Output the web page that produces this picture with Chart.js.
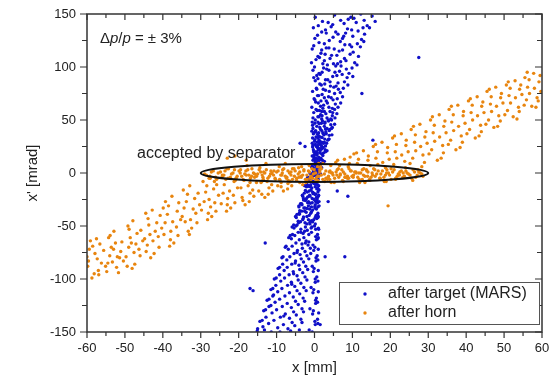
<!DOCTYPE html>
<html>
<head>
<meta charset="utf-8">
<script src="https://cdn.jsdelivr.net/npm/chart.js@4.4.1/dist/chart.umd.min.js"></script>
<style>
  body { margin: 0; background: #fff; }
</style>
</head>
<body>
<canvas id="phaseChart" width="554" height="385"></canvas>
<script>
// Beam phase space, x [mm] vs x' [mrad]
const xTicks = [-60, -50, -40, -30, -20, -10, 0, 10, 20, 30, 40, 50, 60];
const yTicks = [-150, -100, -50, 0, 50, 100, 150];
const seriesNames = ["after target (MARS)", "after horn"];

// after target: [x, x']
const targetPts = [
  [0.2,147],[2.1,143],[5.3,149],[7.8,141],[10.4,146],[13.1,144],[15.2,148],[3.6,142],[8.9,145],
  [-0.3,137],[1.9,133],[4.4,138],[6.2,131],[8.7,136],[11.5,134],[13.9,139],[3.1,132],[9.8,135],
  [0.1,127],[2.6,122],[4.9,128],[6.8,124],[9.3,121],[12.4,126],[1.2,123],[7.7,129],[3.9,125],
  [-0.6,117],[1.7,113],[3.8,118],[5.9,111],[7.4,116],[10.2,114],[12.1,119],[2.8,112],[6.5,115],
  [0.4,107],[2.2,103],[4.1,108],[5.6,101],[8.3,106],[10.6,104],[1.3,109],[3.4,102],[6.9,105],
  [-0.4,97],[1.5,93],[3.2,98],[4.8,91],[6.6,96],[9.1,94],[2.4,99],[0.6,92],[5.4,95],
  [0.2,87],[1.8,83],[3.5,88],[5.1,81],[7.9,86],[2.7,84],[0.9,89],[4.2,82],[6.2,85],
  [-0.5,77],[1.1,73],[2.9,78],[4.4,71],[6.8,76],[2.0,74],[0.6,79],[3.7,72],[5.3,75],
  [0.3,67],[1.6,63],[3.1,68],[4.7,61],[6.9,66],[2.4,64],[0.1,69],[3.8,62],[5.5,65],[1.0,66],
  [-0.2,57],[1.2,53],[2.6,58],[4.3,51],[5.9,56],[2.0,54],[0.7,59],[3.3,52],[1.6,55],[4.8,57],
  [0.1,47],[1.4,43],[2.8,48],[4.0,41],[5.3,46],[0.6,44],[2.1,49],[3.3,42],[-0.5,45],[1.8,47],
  [-0.3,37],[0.9,33],[2.2,38],[3.5,31],[4.6,36],[1.5,34],[0.3,39],[2.7,32],[1.1,35],[3.1,37],
  [0.2,27],[1.3,23],[2.4,28],[3.3,21],[-0.4,26],[0.8,24],[1.9,29],[2.8,22],[0.5,25],[1.6,27],
  [-0.1,17],[0.9,13],[1.9,18],[2.6,11],[-0.6,16],[0.4,14],[1.4,19],[2.1,12],[1.1,15],[0.6,17],
  [0.3,7],[1.2,3],[-0.5,8],[0.8,1],[1.6,6],[-0.2,4],[0.9,9],[0.1,2],[1.9,5],[-0.8,6],
  [0.4,-3],[-1.1,-7],[1.2,-2],[-0.3,-8],[-1.8,-4],[0.9,-6],[-0.6,-1],[0.1,-9],[-1.4,-5],[1.0,-3],
  [0.2,-13],[-1.4,-17],[-2.6,-12],[0.9,-18],[-0.7,-14],[1.2,-16],[-2.0,-11],[-0.2,-19],[0.6,-15],[-1.1,-13],
  [0.5,-23],[-1.6,-27],[-3.1,-22],[0.8,-28],[-0.6,-24],[-2.4,-26],[1.1,-21],[-3.7,-29],[-0.1,-25],[0.3,-27],
  [0.1,-33],[-2.2,-37],[-4.1,-32],[0.9,-38],[-1.3,-34],[-3.4,-36],[1.2,-31],[-4.6,-39],[-0.5,-35],[-2.8,-33],
  [0.6,-43],[-2.5,-47],[-4.8,-42],[0.2,-48],[-1.6,-44],[-3.7,-46],[1.0,-41],[-5.5,-49],[-0.8,-45],[-4.2,-47],
  [0.3,-53],[-3.0,-57],[-5.4,-52],[0.8,-58],[-1.9,-54],[-4.3,-56],[-0.7,-51],[-6.4,-59],[-2.6,-55],[1.1,-53],
  [0.5,-63],[-3.3,-67],[-6.1,-62],[-0.4,-68],[-2.2,-64],[-4.9,-66],[1.0,-61],[-7.5,-69],[-1.5,-65],
  [-0.2,-73],[-3.8,-77],[-6.9,-72],[0.7,-78],[-2.5,-74],[-5.4,-76],[-1.1,-71],[-8.3,-79],[-4.6,-75],
  [0.4,-83],[-4.1,-87],[-7.3,-82],[-0.6,-88],[-2.9,-84],[-6.0,-86],[-1.5,-81],[-9.2,-89],[-5.1,-85],
  [-0.3,-93],[-4.6,-97],[-8.0,-92],[0.6,-98],[-3.1,-94],[-6.7,-96],[-1.8,-91],[-10.1,-99],[-5.5,-95],
  [0.2,-103],[-5.2,-107],[-8.9,-102],[-0.9,-108],[-3.6,-104],[-7.1,-106],[-2.0,-101],[-11.0,-109],[-6.0,-105],
  [-0.4,-113],[-5.6,-117],[-9.7,-112],[0.5,-118],[-3.9,-114],[-7.8,-116],[-2.2,-111],[-12.0,-119],[-10.8,-115],
  [0.3,-123],[-6.1,-127],[-10.4,-122],[-1.2,-128],[-4.3,-124],[-8.5,-126],[-2.6,-121],[-12.9,-129],[-11.5,-125],
  [-0.5,-133],[-6.6,-137],[-11.2,-132],[0.8,-138],[-4.8,-134],[-9.0,-136],[-2.9,-131],[-13.8,-139],[-8.1,-135],
  [0.2,-143],[-7.0,-147],[-12.1,-142],[-1.4,-148],[-5.2,-144],[-9.7,-146],[-3.3,-141],[-15.1,-149],[-13.6,-145],
  [-0.3,3],[0.6,5],[1.4,9],[0.2,12],[1.7,14],[0.7,18],[-0.2,20],[1.0,22],[2.3,24],[0.9,26],[-0.6,28],[1.4,30],
  [3.8,32],[0.4,34],[2.5,36],[-0.1,38],[1.9,40],[4.5,42],[2.6,44],[0.9,48],[3.6,50],[-0.4,52],[4.7,54],[1.9,58],
  [-0.9,-2],[0.7,-4],[-1.5,-6],[-0.4,-9],[0.8,-11],[-2.1,-13],[-0.9,-16],[-1.9,-18],[0.3,-20],[-1.2,-22],
  [-2.9,-24],[0.6,-26],[-1.8,-28],[-3.3,-30],[-0.8,-32],[0.5,-34],[-2.6,-36],[-4.0,-38],[-1.4,-40],[0.2,-42],
  [-3.1,-44],[-2.0,-48],[-4.9,-50],[-0.9,-52],[-3.6,-56],[-5.8,-58],
  [4.8,140],[9.6,147],[12.2,150],[14.5,137],[6.9,144],[1.0,139],[11.0,142],[16.0,143],
  [0.8,130],[5.6,133],[10.1,129],[13.2,131],[7.4,127],[2.9,135],[12.8,137],[8.2,132],
  [-0.2,120],[3.1,118],[8.0,121],[11.3,122],[5.2,117],[13.0,124],[9.8,119],[1.9,116],
  [0.9,110],[4.5,111],[7.9,108],[11.6,110],[2.6,106],[9.4,112],[6.1,103],[-0.8,104],
  [0.0,100],[3.8,97],[7.0,101],[9.9,99],[5.0,103],[2.0,95],[8.4,98],[11.2,102],
  [-0.2,90],[2.9,88],[5.9,92],[8.6,90],[4.1,86],[1.2,94],[7.3,93],[10.1,91],
  [0.5,80],[2.3,79],[5.7,82],[7.6,80],[3.9,77],[1.4,84],[8.8,83],[6.3,79],
  [-0.1,70],[2.6,71],[4.9,69],[7.4,72],[3.4,66],[1.7,68],[6.0,70],[0.8,73],
  [0.4,60],[2.2,61],[4.1,58],[6.2,62],[3.0,56],[1.3,59],[5.3,60],[-0.7,62],
  [0.2,50],[1.9,51],[3.7,49],[5.4,52],[2.7,47],[0.9,53],[4.5,50],[-0.6,48],
  [0.3,40],[1.6,41],[3.0,39],[4.7,43],[2.3,37],[-0.4,42],[3.9,40],[1.1,38],
  [0.0,30],[1.2,31],[2.6,29],[3.8,32],[1.8,26],[-0.5,33],[3.2,28],[0.7,29],
  [0.4,20],[1.5,21],[2.4,19],[-0.3,22],[1.0,23],[2.9,20],[0.1,18],[1.9,24],
  [0.2,10],[1.0,11],[1.8,9],[-0.4,12],[0.6,8],[2.3,10],[-0.1,14],[1.3,13],
  [0.0,0],[0.8,1],[-0.6,-1],[1.3,2],[-1.2,0],[0.4,-2],[1.6,-1],[-0.3,1],
  [0.3,-10],[-1.0,-11],[-2.0,-9],[1.1,-12],[-0.5,-8],[0.8,-14],[-1.6,-12],[-0.1,-10],
  [0.1,-20],[-1.3,-21],[-2.7,-19],[1.0,-22],[-0.5,-18],[-2.1,-24],[0.7,-23],[-3.2,-21],
  [0.2,-30],[-1.6,-31],[-3.4,-29],[0.9,-32],[-0.6,-28],[-2.5,-33],[-4.1,-31],[1.2,-27],
  [0.4,-40],[-2.0,-41],[-4.0,-39],[0.9,-42],[-1.0,-38],[-3.0,-43],[-5.0,-41],[-0.2,-44],
  [0.0,-50],[-2.4,-51],[-4.6,-49],[1.0,-52],[-1.2,-48],[-3.6,-53],[-5.9,-51],[-0.5,-46],
  [0.3,-60],[-2.8,-61],[-5.2,-59],[0.9,-62],[-1.5,-58],[-4.0,-63],[-6.8,-61],[-0.8,-56],
  [0.1,-70],[-3.2,-71],[-5.9,-69],[1.0,-72],[-1.7,-68],[-4.5,-73],[-7.7,-70],[-2.4,-66],
  [0.4,-80],[-3.5,-81],[-6.5,-79],[0.9,-82],[-2.0,-78],[-5.0,-83],[-8.6,-80],[-1.0,-76],
  [-0.1,-90],[-3.9,-91],[-7.2,-89],[1.0,-92],[-2.3,-88],[-5.6,-93],[-9.6,-90],[-8.4,-86],
  [0.2,-100],[-4.3,-101],[-7.9,-99],[0.9,-102],[-2.5,-98],[-6.1,-103],[-10.6,-100],[-9.2,-96],
  [-0.2,-110],[-4.6,-111],[-8.6,-109],[1.0,-112],[-2.8,-108],[-6.6,-113],[-11.5,-110],[-10.2,-106],
  [0.3,-120],[-5.0,-121],[-9.2,-119],[0.8,-122],[-3.0,-118],[-7.2,-123],[-12.5,-120],[-11.0,-116],
  [-0.3,-130],[-5.5,-131],[-10.0,-129],[1.1,-132],[-3.3,-128],[-7.7,-133],[-13.4,-130],[-12.0,-126],
  [0.1,-140],[-5.9,-141],[-10.7,-139],[0.9,-142],[-3.6,-138],[-8.2,-143],[-14.4,-140],[-12.8,-136],
  [-0.6,-150],[-6.3,-149],[-11.4,-150],[-4.0,-148],[-9.1,-150],[-15.0,-147],[-2.2,-151],[-13.2,-148],
  [0.5,2.5],[-0.4,5.5],[1.1,7.5],[0.3,10.5],[1.5,12.5],[-0.2,15.5],[2.2,16.5],[0.6,19.5],[1.8,22.5],[-0.5,24.5],
  [2.9,25.5],[1.2,28.5],[0.1,31.5],[2.0,33.5],[3.9,35.5],[0.8,36.5],[-0.7,39.5],[2.9,41.5],[4.3,45.5],[1.2,46.5],
  [-0.3,-2.5],[0.9,-5.5],[-1.3,-7.5],[0.2,-10.5],[-1.7,-12.5],[1.0,-15.5],[-2.4,-16.5],[-0.4,-19.5],[-1.8,-22.5],[0.7,-24.5],
  [-2.9,-25.5],[-1.1,-28.5],[0.1,-31.5],[-2.0,-33.5],[-3.9,-35.5],[-0.8,-36.5],[0.8,-39.5],[-2.9,-41.5],[-4.3,-45.5],[-1.2,-46.5],
  [27.5,109],[12.5,75],[15.4,31],[6,-17],[8.8,-22],[3.6,-27],[2.8,-79],[8,-79],[1.5,-143],
  [-17,-109],[-16.2,-111],[-13,-66],[-3.8,28],[-2.5,25]
];

// after horn: [x, x']
const hornPts = [
  [-59.4,-72],[-58.1,-95],[-57.3,-81],[-59.8,-88],[-56.6,-67],[-58.7,-99],[-57.9,-76],[-56.2,-85],[-59.1,-64],[-57.0,-92],
  [-54.3,-61],[-52.2,-89],[-53.6,-70],[-51.4,-80],[-54.8,-93],[-52.9,-55],[-51.1,-74],[-53.3,-84],[-52.5,-66],[-54.0,-78],
  [-49.2,-50],[-47.4,-86],[-48.6,-61],[-46.3,-72],[-49.7,-79],[-47.9,-45],[-46.8,-57],[-48.1,-90],[-47.1,-67],[-49.0,-70],
  [-44.5,-38],[-42.3,-76],[-43.7,-49],[-41.2,-60],[-44.1,-68],[-42.8,-35],[-41.6,-47],[-43.2,-80],[-42.0,-55],[-44.8,-62],
  [-39.3,-27],[-37.1,-66],[-38.8,-39],[-36.4,-51],[-39.7,-58],[-37.6,-22],[-36.2,-36],[-38.2,-69],[-37.4,-46],[-39.9,-33],
  [-34.6,-16],[-32.4,-52],[-33.8,-27],[-31.3,-38],[-34.1,-46],[-32.9,-12],[-31.6,-24],[-33.3,-55],[-32.0,-34],[-34.9,-41],
  [-29.4,-8],[-27.1,-41],[-28.7,-18],[-26.3,-28],[-29.8,-35],[-27.5,-5],[-26.6,-15],[-28.2,-44],[-27.8,-25],
  [-24.3,-2],[-22.1,-33],[-23.8,-11],[-21.4,-21],[-24.6,-29],[-22.7,4],[-21.2,-8],[-23.2,-36],[-22.4,-17],
  [-19.5,3],[-17.2,-27],[-18.6,-7],[-16.3,-16],[-19.1,-23],[-17.8,7],[-16.6,-3],[-18.3,-30],[-17.5,-12],
  [-14.4,5],[-12.2,-20],[-13.6,-4],[-11.3,-11],[-14.7,-17],[-12.8,9],[-11.6,-1],[-13.1,-23],[-12.5,-8],
  [-9.3,6],[-7.1,-15],[-8.6,-2],[-6.4,-8],[-9.7,-12],[-7.7,9],[-6.2,1],[-8.2,-17],[-7.4,-5],
  [-4.2,5],[-2.3,-9],[-3.6,-3],[-1.4,7],[-4.7,-7],[-2.8,2],[-1.2,-5],[-3.1,-11],
  [0.8,6],[2.7,-8],[1.4,3],[3.6,-4],[0.3,-6],[2.2,9],[3.9,1],[1.8,-2],
  [5.6,10],[7.4,-7],[6.3,4],[8.7,-3],[5.2,-9],[7.9,13],[8.9,6],[6.8,-1],[9.4,15],
  [10.4,18],[12.6,-6],[11.3,9],[13.8,2],[10.2,-4],[12.9,21],[14.1,12],[11.7,0],[13.3,-9],
  [15.5,25],[17.3,-5],[16.2,14],[18.7,5],[15.3,-2],[17.8,29],[19.2,19],[16.7,8],[18.4,-8],
  [20.6,33],[22.4,-2],[21.3,20],[23.8,11],[20.2,4],[22.9,37],[24.1,26],[21.7,14],[23.4,0],
  [25.5,41],[27.3,3],[26.4,29],[28.6,17],[25.2,9],[27.8,46],[29.1,34],[26.7,21],[28.3,6],
  [30.6,50],[32.4,12],[31.3,38],[33.8,26],[30.2,18],[32.9,55],[34.1,44],[31.7,30],[33.4,14],
  [35.5,60],[37.3,22],[36.2,48],[38.7,35],[35.3,27],[37.8,64],[39.2,54],[36.7,40],[38.4,24],
  [40.6,68],[42.4,33],[41.3,57],[43.8,45],[40.2,37],[42.9,72],[44.1,63],[41.7,50],[43.4,35],
  [45.5,77],[47.3,43],[46.4,65],[48.6,54],[45.2,46],[47.8,81],[49.1,71],[46.7,58],[48.3,44],
  [50.6,83],[52.4,53],[51.3,73],[53.8,62],[50.2,55],[52.9,87],[54.1,79],[51.7,66],[53.4,51],
  [55.5,90],[57.3,63],[56.2,81],[58.7,71],[55.3,64],[57.8,94],[59.2,86],[56.7,75],[58.4,62],
  [-60.0,-79],[-55.6,-73],[-56.9,-96],[-58.5,-69],[-55.1,-88],[-59.6,-83],[-57.5,-62],
  [-50.8,-65],[-52.0,-79],[-53.9,-59],[-51.7,-94],[-54.5,-85],[-50.4,-83],[-53.0,-72],
  [-45.8,-54],[-46.0,-78],[-48.9,-53],[-47.6,-75],[-49.4,-88],[-45.3,-64],[-48.3,-66],
  [-40.7,-40],[-41.0,-70],[-43.9,-43],[-42.6,-64],[-44.4,-74],[-40.3,-52],[-43.4,-58],
  [-35.8,-28],[-36.0,-59],[-38.5,-31],[-37.9,-55],[-39.4,-47],[-35.3,-44],[-38.0,-63],
  [-30.7,-19],[-31.0,-47],[-33.5,-20],[-32.7,-44],[-34.4,-33],[-30.3,-30],[-33.0,-58],
  [-25.8,-11],[-26.0,-36],[-28.4,-12],[-27.4,-32],[-29.1,-27],[-25.3,-21],[-28.0,-38],
  [-20.7,-5],[-21.0,-28],[-23.4,-6],[-22.9,-24],[-24.1,-19],[-20.3,-14],[-23.0,-30],
  [-15.8,-1],[-16.0,-22],[-18.0,-2],[-17.0,-19],[-19.4,-14],[-15.3,-9],[-18.9,-26],
  [-10.7,2],[-11.0,-17],[-13.4,1],[-12.0,-14],[-14.1,-9],[-10.3,-6],[-13.9,-20],
  [-5.8,4],[-6.0,-12],[-8.4,3],[-7.0,-10],[-9.1,-7],[-5.3,-3],[-8.8,-13],
  [-0.7,4],[-1.0,-8],[-3.4,6],[-2.0,-6],[-4.1,-4],[-0.3,-1],[-3.9,-9],
  [4.3,7],[4.0,-6],[1.6,6],[3.0,-5],[0.9,-3],[4.7,0],[1.1,9],
  [9.2,9],[9.0,-5],[6.6,7],[8.0,-4],[5.9,-2],[9.7,2],[6.1,12],
  [14.2,16],[14.0,-3],[11.6,13],[13.0,4],[10.9,1],[14.7,7],[11.1,19],
  [19.3,24],[19.0,0],[16.6,20],[18.0,10],[15.9,3],[19.7,13],[16.1,27],
  [24.2,31],[24.0,5],[21.6,27],[23.0,17],[20.9,8],[24.7,20],[21.1,35],
  [29.4,39],[29.0,10],[26.6,36],[28.0,25],[25.9,14],[29.7,28],[26.1,44],
  [34.4,49],[34.0,19],[31.6,45],[33.0,34],[30.9,22],[34.7,38],[31.1,53],
  [39.3,58],[39.0,29],[36.6,55],[38.0,44],[35.9,31],[39.7,47],[36.1,63],
  [44.4,67],[44.0,39],[41.6,64],[43.0,54],[40.9,41],[44.7,57],[41.1,70],
  [49.3,75],[49.0,49],[46.6,72],[48.0,63],[45.9,50],[49.7,66],[46.1,79],
  [54.4,83],[54.0,58],[51.6,80],[53.0,71],[50.9,59],[54.7,74],[51.1,86],
  [59.5,92],[59.0,68],[56.6,88],[58.0,80],[55.9,69],[59.7,77],[56.1,95],
  [-28.5,-2],[-27.2,1],[-26.1,-4],[-25.4,0],[-24.3,-3],[-23.6,2],[-22.8,-5],[-21.9,-1],[-21.1,3],[-20.4,-3],
  [-19.6,0],[-18.8,-6],[-18.1,2],[-17.3,-2],[-16.5,4],[-15.8,-4],[-15.0,-1],[-14.2,1],[-13.5,-6],[-12.7,3],
  [-11.9,-3],[-11.2,0],[-10.4,-5],[-9.6,2],[-8.9,-2],[-8.1,4],[-7.3,-4],[-6.6,0],[-5.8,-6],[-5.1,2],
  [-4.3,-1],[-3.5,-4],[-2.8,3],[-2.0,-2],[-1.3,1],[-0.5,-5],[0.3,0],[1.1,-3],[1.8,4],[2.6,-1],
  [3.4,-6],[4.1,2],[4.9,-2],[5.7,1],[6.4,-4],[7.2,3],[8.0,-1],[8.7,-5],[9.5,2],[10.3,-2],
  [11.0,0],[11.8,-6],[12.6,3],[13.3,-3],[14.1,1],[14.9,-4],[15.6,4],[16.4,-1],[17.2,-5],[17.9,2],
  [18.7,-2],[19.5,0],[20.2,-6],[21.0,3],[21.8,-3],[22.5,1],[23.3,-4],[24.1,2],[24.8,-1],[25.6,-5],
  [26.4,1],[27.1,-2],[27.9,0],[28.6,-3],[-27.8,-5],[-20.9,-7],[-13.9,-8],[-6.9,-7],[0.9,-7],[7.6,-8],[14.6,-7],[21.4,-6],
  [-29.0,-1],[-27.6,-3],[-26.7,2],[-25.8,-6],[-24.8,1],[-23.9,-2],[-23.1,4],[-22.2,-4],[-21.5,0],[-20.7,-6],
  [-19.9,2],[-19.2,-3],[-18.4,-1],[-17.6,3],[-16.9,-5],[-16.1,0],[-15.3,-3],[-14.6,3],[-13.8,-2],[-13.1,0],
  [-12.3,-5],[-11.5,2],[-10.8,-2],[-10.0,1],[-9.2,-6],[-8.5,0],[-7.7,-3],[-7.0,2],[-6.2,-2],[-5.4,4],
  [-4.7,-5],[-3.9,1],[-3.1,-2],[-2.4,-6],[-1.6,2],[-0.9,-3],[-0.1,3],[0.6,-4],[1.4,1],[2.2,-6],
  [3.0,2],[3.7,-3],[4.5,0],[5.3,-5],[6.0,3],[6.8,-2],[7.6,1],[8.3,-4],[9.1,4],[9.9,-3],
  [10.6,1],[11.4,-4],[12.2,0],[12.9,-2],[13.7,3],[14.5,-6],[15.2,0],[16.0,-3],[16.8,2],[17.5,-1],
  [18.3,-4],[19.1,3],[19.8,-2],[20.6,1],[21.4,-5],[22.1,-1],[22.9,2],[23.7,-3],[24.4,0],[25.2,-2],
  [26.0,3],[26.7,-4],[27.5,1],[28.3,-1],[-26.4,-8],[-17.0,-9],[-8.8,-9],[-1.9,-8],[4.4,-9],[11.9,-9],[18.9,-8],[25.9,-7],
  [19.4,-31],[-23,14],[-21,16],[-18,12]
];

// separator acceptance ellipse: centre and half axes
const acceptCentre = [0, 0];
const acceptHalf = [30, 8.5];

const blue = "#1010c8";
const orange = "#e8850f";
const ink = "#222";

const toXY = p => ({ x: p[0], y: p[1] });

const decorations = {
  id: "decorations",
  afterDatasetsDraw(chart) {
    const { ctx, chartArea: a, scales: { x, y } } = chart;
    ctx.save();

    // acceptance ellipse
    const cx = x.getPixelForValue(acceptCentre[0]);
    const cy = y.getPixelForValue(acceptCentre[1]);
    const rx = x.getPixelForValue(acceptCentre[0] + acceptHalf[0]) - cx;
    const ry = cy - y.getPixelForValue(acceptCentre[1] + acceptHalf[1]);
    ctx.beginPath();
    ctx.ellipse(cx, cy, rx, ry, 0, 0, Math.PI * 2);
    ctx.lineWidth = 2;
    ctx.strokeStyle = "#111";
    ctx.stroke();

    // frame and ticks
    ctx.strokeStyle = "#333";
    ctx.lineWidth = 1.5;
    ctx.strokeRect(a.left, a.top, a.right - a.left, a.bottom - a.top);
    ctx.lineWidth = 1.2;
    ctx.beginPath();
    for (let v = -60; v <= 60; v += 5) {
      const px = x.getPixelForValue(v);
      const len = v % 10 === 0 ? 6 : 4;
      ctx.moveTo(px, a.bottom); ctx.lineTo(px, a.bottom + len);
      ctx.moveTo(px, a.top); ctx.lineTo(px, a.top + len);
    }
    for (let v = -150; v <= 150; v += 25) {
      const py = y.getPixelForValue(v);
      const len = v % 50 === 0 ? 7 : 5;
      ctx.moveTo(a.left - len, py); ctx.lineTo(a.left, py);
      ctx.moveTo(a.right, py); ctx.lineTo(a.right - len, py);
    }
    ctx.stroke();

    // annotations
    ctx.fillStyle = ink;
    ctx.textBaseline = "middle";
    ctx.textAlign = "left";
    ctx.font = "16px 'Liberation Sans', Arial, sans-serif";
    ctx.fillText("accepted by separator", x.getPixelForValue(-46.8), y.getPixelForValue(18));

    let tx = x.getPixelForValue(-56.6);
    const ty = y.getPixelForValue(127);
    const parts = [["\u0394", ""], ["p", "italic "], ["/", ""], ["p", "italic "], [" = \u00b1 3%", ""]];
    parts.forEach(([t, st]) => {
      ctx.font = st + "15px 'Liberation Sans', Arial, sans-serif";
      ctx.fillText(t, tx, ty);
      tx += ctx.measureText(t).width;
    });

    // legend box
    const lx = a.right - 203, ly = a.bottom - 50, lw = 200, lh = 42;
    ctx.fillStyle = "#fff";
    ctx.fillRect(lx, ly, lw, lh);
    ctx.strokeStyle = "#555";
    ctx.lineWidth = 1;
    ctx.strokeRect(lx + 0.5, ly + 0.5, lw, lh);
    ctx.font = "16px 'Liberation Sans', Arial, sans-serif";
    [blue, orange].forEach((c, i) => {
      const iy = ly + 12 + i * 19;
      ctx.fillStyle = c;
      ctx.beginPath();
      ctx.arc(lx + 26, iy, 1.7, 0, Math.PI * 2);
      ctx.fill();
      ctx.fillStyle = ink;
      ctx.fillText(seriesNames[i], lx + 49, iy);
    });

    ctx.restore();
  }
};

Chart.defaults.font.family = "'Liberation Sans', Arial, sans-serif";

new Chart(document.getElementById("phaseChart"), {
  type: "scatter",
  data: {
    datasets: [{
      label: seriesNames[0],
      data: targetPts.map(toXY),
      backgroundColor: blue,
      borderWidth: 0,
      pointRadius: 1.7,
      order: 1
    }, {
      label: seriesNames[1],
      data: hornPts.map(toXY),
      backgroundColor: orange,
      borderWidth: 0,
      pointRadius: 1.7,
      order: 0
    }]
  },
  options: {
    responsive: false,
    animation: false,
    layout: { padding: { top: 14, right: 12, left: 0, bottom: 0 } },
    plugins: {
      legend: { display: false },
      tooltip: { enabled: false }
    },
    scales: {
      x: {
        type: "linear",
        min: -60,
        max: 60,
        afterFit(s) { s.height = 53; s.paddingLeft = 0; s.paddingRight = 0; },
        afterBuildTicks(s) { s.ticks = xTicks.map(v => ({ value: v })); },
        ticks: { color: ink, padding: 9, font: { size: 13 } },
        grid: { display: false, drawTicks: false },
        border: { display: false },
        title: { display: true, text: "x [mm]", color: ink, font: { size: 15 }, padding: { bottom: 8 } }
      },
      y: {
        type: "linear",
        min: -150,
        max: 150,
        afterFit(s) { s.width = 87; s.paddingTop = 0; s.paddingBottom = 0; },
        afterBuildTicks(s) { s.ticks = yTicks.map(v => ({ value: v })); },
        ticks: { color: ink, padding: 11, font: { size: 13 } },
        grid: { display: false, drawTicks: false },
        border: { display: false },
        title: { display: true, text: "x' [mrad]", color: ink, font: { size: 15 }, padding: { top: 24 } }
      }
    }
  },
  plugins: [decorations]
});
</script>
</body>
</html>
